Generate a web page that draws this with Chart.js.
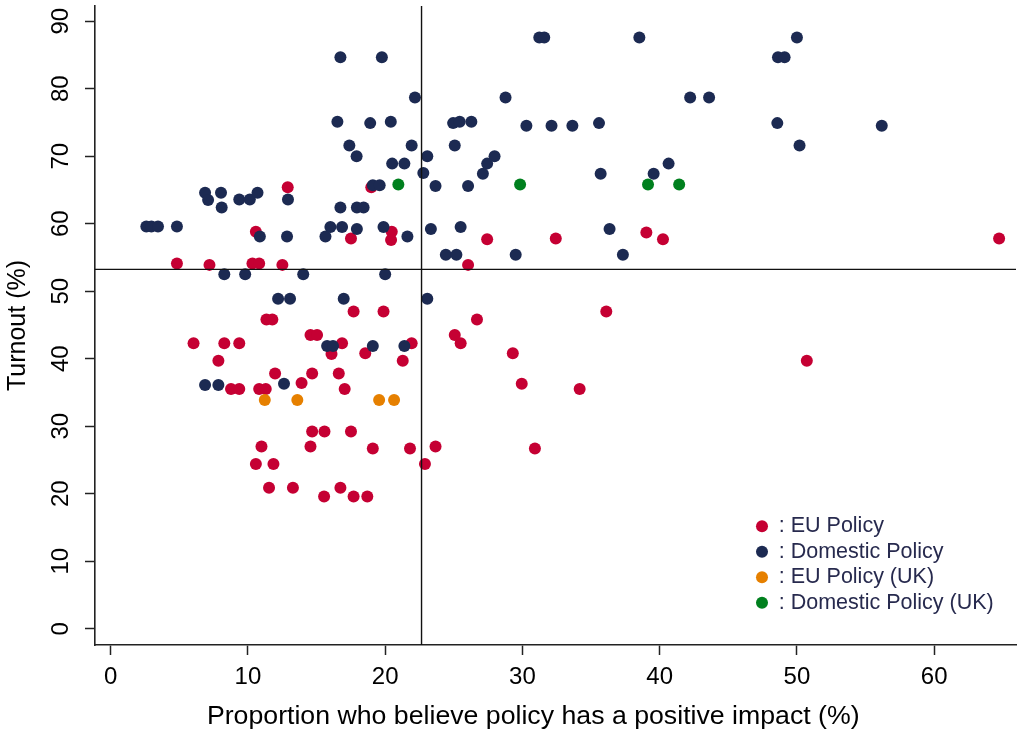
<!DOCTYPE html>
<html><head><meta charset="utf-8">
<script src="https://cdn.jsdelivr.net/npm/chart.js@4.4.1/dist/chart.umd.min.js"></script>
<style>html,body{margin:0;padding:0;background:#fff;}#wrap{width:1022px;height:734px;position:relative;}</style>
</head><body><div id="wrap"><canvas id="c"></canvas></div>
<script>
// ---- data ----
const seriesLabels = ['EU Policy', 'Domestic Policy', 'EU Policy (UK)', 'Domestic Policy (UK)'];
const seriesColors = ['#c50033', '#1c2a52', '#e68000', '#00801e'];

const euX = [12.9,18.99,10.58,17.51,20.48,20.43,27.43,32.43,39.03,40.24,64.73,4.83,7.2,10.33,10.82,12.51,26.04,17.7,19.88,36.11,11.35,11.78,26.69,14.56,15.04,25.07,25.5,6.04,8.28,9.37,16.86,21.93,16.09,18.55,29.3,7.85,21.28,50.72,11.98,14.68,16.62,13.91,29.95,8.77,9.37,10.82,11.3,17.05,34.17,14.68,15.58,17.51,10.99,14.56,19.1,21.81,23.67,30.91,10.58,11.86,22.9,11.54,13.28,16.74,15.55,17.7,18.7];
const euY = [65.4,65.4,58.8,57.8,58.8,57.6,57.7,57.8,58.7,57.7,57.8,54.1,53.9,54.1,54.1,53.9,53.9,47.0,47.0,47.0,45.8,45.8,45.8,43.5,43.5,43.5,42.3,42.3,42.3,42.3,42.3,42.3,40.7,40.8,40.8,39.7,39.7,39.7,37.8,37.8,37.8,36.4,36.3,35.5,35.5,35.5,35.5,35.5,35.5,29.2,29.2,29.2,27.0,27.0,26.7,26.7,27.0,26.7,24.4,24.4,24.4,20.9,20.9,20.9,19.6,19.6,19.6];

const domX = [16.74,19.76,22.17,16.52,18.91,20.41,17.39,17.92,21.93,20.51,21.4,22.78,23.07,19.1,19.6,12.92,6.88,7.1,8.04,8.09,9.37,10.14,10.7,16.74,17.94,18.43,2.6,2.97,3.45,4.83,16.01,16.86,17.94,19.88,10.87,12.85,15.65,21.62,23.33,25.5,36.35,24.42,25.19,29.51,37.32,8.28,9.8,14.03,20.0,12.2,13.07,16.98,23.07,15.77,16.2,19.1,21.4,12.63,6.88,7.85,31.23,31.59,38.52,28.77,42.22,43.6,24.95,25.43,26.28,30.29,32.12,33.64,35.58,25.07,27.97,27.43,27.12,23.67,26.04,35.7,39.56,40.65,50.0,48.62,49.1,48.57,56.18,50.19];
const domY = [84.65,84.65,78.7,75.1,74.9,75.1,71.6,70.0,71.6,68.9,68.9,67.5,70.0,65.7,65.7,63.6,64.6,63.5,64.6,62.4,63.6,63.6,64.6,62.4,62.4,62.4,59.6,59.6,59.6,59.6,59.5,59.5,59.2,59.5,58.1,58.1,58.1,58.1,59.2,59.5,59.2,55.4,55.4,55.4,55.4,52.5,52.5,52.5,52.5,48.9,48.9,48.9,48.9,41.9,41.9,41.9,41.9,36.3,36.1,36.1,87.6,87.6,87.6,78.7,78.7,78.7,74.9,75.1,75.1,74.5,74.5,74.5,74.9,71.6,70.0,68.9,67.4,65.6,65.6,67.4,67.4,68.9,87.6,84.65,84.65,74.9,74.5,71.6];

const euUkX = [11.23,13.6,19.56,20.65];
const euUkY = [33.9,33.9,33.9,33.9];
const domUkX = [20.96,29.83,39.15,41.42];
const domUkY = [65.8,65.8,65.8,65.8];

const refX = 22.65;   // vertical reference line
const refY = 53.24;   // horizontal reference line

const xTicks = [0,10,20,30,40,50,60];
const yTicks = [0,10,20,30,40,50,60,70,80,90];
const xMin = -1.14, xMax = 65.96, yMin = -2.41, yMax = 92.25;

const xTitle = 'Proportion who believe policy has a positive impact (%)';
const yTitle = 'Turnout (%)';

// ---- build ----
const pts = (xs, ys) => xs.map((x, i) => ({x, y: ys[i]}));
const FONT = "'Liberation Sans', Arial, sans-serif";
const seriesData = [pts(euX, euY), pts(domX, domY), pts(euUkX, euUkY), pts(domUkX, domUkY)];
const drawOrder = [5, 4, 3, 2];

const datasets = seriesData.map((d, i) => ({
  label: seriesLabels[i], data: d,
  backgroundColor: seriesColors[i], borderColor: seriesColors[i], borderWidth: 0,
  pointRadius: 6, pointHoverRadius: 6, pointStyle: 'circle', order: drawOrder[i]
}));
const refStyle = {showLine: true, pointRadius: 0, borderColor: '#111', borderWidth: 1.4, order: 1, label: 'ref'};
datasets.push(Object.assign({data: [{x: refX, y: yMin}, {x: refX, y: yMax}]}, refStyle));
datasets.push(Object.assign({data: [{x: xMin, y: refY}, {x: xMax, y: refY}]}, refStyle));

const legendPlacer = {
  id: 'legendPlacer',
  afterLayout(chart) {
    const lg = chart.legend;
    if (!lg) return;
    lg.left = 752; lg.top = 511.5; lg.right = 1020; lg.bottom = 700;
    lg.width = lg.right - lg.left; lg.height = lg.bottom - lg.top;
  }
};

new Chart(document.getElementById('c'), {
  type: 'scatter',
  data: {datasets},
  plugins: [legendPlacer],
  options: {
    responsive: true, maintainAspectRatio: false, animation: false,
    devicePixelRatio: 1,
    layout: {padding: {top: 6, right: 1, left: 0, bottom: 0}},
    plugins: {
      tooltip: {enabled: false},
      legend: {
        position: 'chartArea', align: 'start',
        labels: {
          usePointStyle: true, pointStyle: 'circle', boxWidth: 11, boxHeight: 8.5, pointStyleWidth: 12,
          padding: 4, color: '#272a4e', font: {size: 21.5, family: FONT},
          generateLabels(chart) {
            const items = Chart.defaults.plugins.legend.labels.generateLabels(chart);
            items.forEach(it => { it.text = ': ' + it.text; it.lineWidth = 0; });
            return items;
          },
          filter: (it) => it.datasetIndex < 4,
          sort: (a, b) => a.datasetIndex - b.datasetIndex
        }
      }
    },
    scales: {
      x: {
        type: 'linear', min: xMin, max: xMax,
        afterBuildTicks: s => { s.ticks = xTicks.map(v => ({value: v})); },
        afterFit: s => { s.height = 89; s.paddingLeft = 0; s.paddingRight = 0; },
        grid: {display: true, drawOnChartArea: false, drawTicks: true, tickLength: 10, tickWidth: 1.5, tickColor: '#222'},
        border: {display: true, color: '#222', width: 1.6},
        ticks: {color: '#000', padding: 8, font: {size: 24, family: FONT}, maxRotation: 0, autoSkip: false},
        title: {display: true, text: xTitle + '\u00a0\u00a0\u00a0\u00a0\u00a0\u00a0', color: '#000', font: {size: 26.7, family: FONT}, padding: {top: 0, bottom: 1.2}}
      },
      y: {
        type: 'linear', min: yMin, max: yMax,
        afterBuildTicks: s => { s.ticks = yTicks.map(v => ({value: v})); },
        afterFit: s => { s.width = 95; s.paddingTop = 0; s.paddingBottom = 0; },
        grid: {display: true, drawOnChartArea: false, drawTicks: true, tickLength: 10, tickWidth: 1.5, tickColor: '#222'},
        border: {display: true, color: '#222', width: 1.6},
        ticks: {color: '#000', padding: 10.6, crossAlign: 'center', minRotation: 90, maxRotation: 90, autoSkip: false, font: {size: 24, family: FONT}},
        title: {display: true, text: yTitle, color: '#000', font: {size: 25, family: FONT}, padding: {top: 3, bottom: 0}}
      }
    }
  }
});
</script></body></html>
